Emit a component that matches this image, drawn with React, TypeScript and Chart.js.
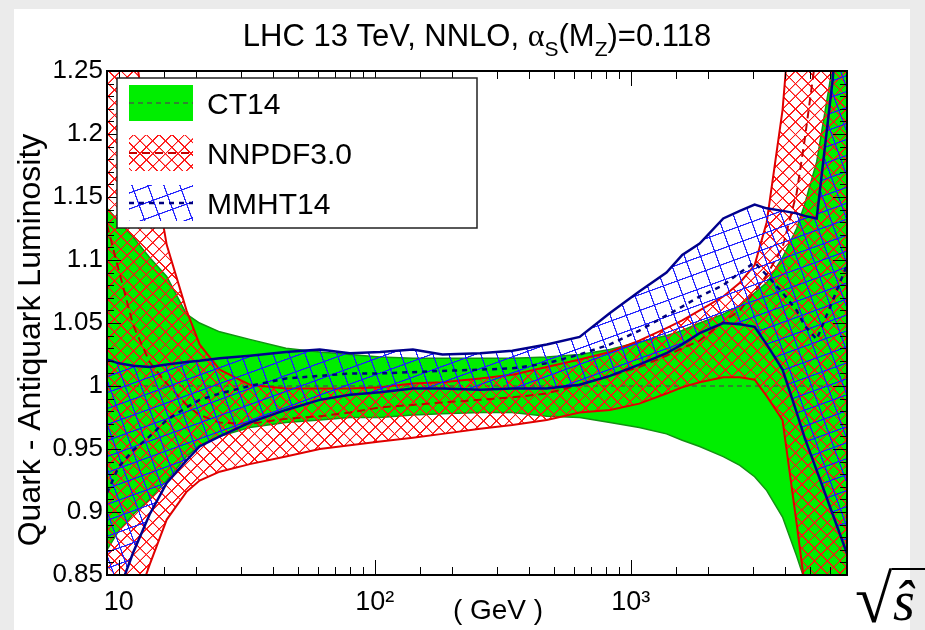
import React, { useEffect, useRef } from 'react';
import { Chart, registerables } from 'chart.js';

Chart.register(...registerables);

// sqrt(s-hat) in GeV
const sqrtS = [9, 10, 11.4, 13.2, 15.4, 18.4, 20.7, 24.8, 32.5, 45, 61, 80, 105, 141, 184, 258, 345, 470, 632, 830, 1080, 1380, 1590, 1860, 2300, 2670, 3050, 3400, 3920, 4450, 4780, 5330, 6160, 7000];

const ct14Upper = [1.141, 1.131, 1.118, 1.102, 1.087, 1.057, 1.050, 1.043, 1.037, 1.030, 1.027, 1.025, 1.023, 1.022, 1.022, 1.022, 1.022, 1.023, 1.025, 1.029, 1.035, 1.040, 1.044, 1.050, 1.057, 1.064, 1.074, 1.082, 1.102, 1.125, 1.144, 1.178, 1.255, 1.35];
const ct14Central = [1, 1, 1, 1, 1, 1, 1, 1, 1, 1, 1, 1, 1, 1, 1, 1, 1, 1, 1, 1, 1, 1, 1, 1, 1, 1, 1, 1, 1, 1, 1, 1, 1, 1];
const ct14Lower = [0.870, 0.885, 0.898, 0.910, 0.925, 0.944, 0.953, 0.960, 0.967, 0.971, 0.973, 0.975, 0.975, 0.977, 0.978, 0.979, 0.979, 0.976, 0.975, 0.971, 0.967, 0.962, 0.957, 0.952, 0.944, 0.937, 0.928, 0.917, 0.896, 0.865, 0.846, 0.814, 0.767, 0.735];

const nnpdfUpper = [1.41, 1.346, 1.275, 1.191, 1.112, 1.060, 1.033, 1.013, 1.001, 0.998, 0.998, 0.998, 0.999, 1.002, 1.003, 1.006, 1.009, 1.015, 1.021, 1.027, 1.036, 1.046, 1.052, 1.060, 1.071, 1.082, 1.096, 1.130, 1.219, 1.354, 1.45, 1.6, 1.8, 2.0];
const nnpdfCentral = [1.128, 1.092, 1.048, 1.019, 1.002, 0.985, 0.977, 0.971, 0.970, 0.974, 0.976, 0.979, 0.983, 0.985, 0.987, 0.989, 0.991, 0.994, 1.001, 1.008, 1.015, 1.024, 1.030, 1.036, 1.051, 1.060, 1.075, 1.088, 1.110, 1.153, 1.195, 1.267, 1.40, 1.5];
const nnpdfLower = [0.763, 0.790, 0.821, 0.858, 0.894, 0.916, 0.925, 0.932, 0.938, 0.944, 0.950, 0.953, 0.956, 0.959, 0.962, 0.966, 0.969, 0.973, 0.979, 0.981, 0.986, 0.994, 0.999, 1.003, 1.007, 1.007, 1.005, 0.992, 0.973, 0.891, 0.842, 0.767, 0.687, 0.608];

const mmhtUpper = [1.021, 1.018, 1.016, 1.015, 1.017, 1.019, 1.020, 1.022, 1.024, 1.027, 1.029, 1.026, 1.027, 1.029, 1.025, 1.026, 1.028, 1.033, 1.039, 1.058, 1.075, 1.090, 1.104, 1.113, 1.133, 1.139, 1.144, 1.141, 1.139, 1.137, 1.135, 1.133, 1.244, 1.40];
const mmhtCentral = [0.915, 0.936, 0.949, 0.960, 0.973, 0.983, 0.989, 0.994, 1.000, 1.006, 1.008, 1.010, 1.010, 1.011, 1.012, 1.013, 1.014, 1.018, 1.025, 1.033, 1.044, 1.056, 1.063, 1.071, 1.080, 1.090, 1.098, 1.088, 1.074, 1.060, 1.048, 1.037, 1.068, 1.096];
const mmhtLower = [0.811, 0.837, 0.868, 0.898, 0.923, 0.941, 0.952, 0.960, 0.971, 0.981, 0.989, 0.993, 0.995, 0.998, 0.998, 0.997, 0.998, 0.998, 1.001, 1.008, 1.017, 1.026, 1.033, 1.042, 1.050, 1.049, 1.047, 1.033, 1.013, 0.979, 0.959, 0.933, 0.898, 0.867];

const yTicks = [0.85, 0.9, 0.95, 1, 1.05, 1.1, 1.15, 1.2, 1.25];
const yTickLabels = ['0.85', '0.9', '0.95', '1', '1.05', '1.1', '1.15', '1.2', '1.25'];
const xMajorTicks = [10, 100, 1000];
const xTickLabels = ['10', '10\u00B2', '10\u00B3'];
const legendLabels = ['CT14', 'NNPDF3.0', 'MMHT14'];

const SANS = "'Liberation Sans', Arial, Helvetica, sans-serif";
const SERIF = "'Liberation Serif', 'DejaVu Serif', 'Times New Roman', serif";

const GREEN = 'rgb(0,238,0)';
const GREEN_EDGE = '#129312';
const CT_CENTRAL = 'rgba(75,75,75,0.85)';
const RED_EDGE = '#e00000';
const RED_CENTRAL = '#c40000';
const BLUE_EDGE = '#00008c';
const BLUE_CENTRAL = '#000080';

function makeGridPattern(ctx: CanvasRenderingContext2D, size: number, color: string, angle: number, lw: number) {
  const S = size * 4;
  const tile = document.createElement('canvas');
  tile.width = S;
  tile.height = S;
  const t = tile.getContext('2d')!;
  t.fillStyle = color;
  t.fillRect(0, 0, S, lw * 4);
  t.fillRect(0, 0, lw * 4, S);
  const p = ctx.createPattern(tile, 'repeat')!;
  p.setTransform(new DOMMatrix().rotate(angle).scale(0.25));
  return p;
}

function drawRich(ctx: CanvasRenderingContext2D, segs: { t: string; f: string; dy: number }[], cx: number, y: number) {
  let total = 0;
  segs.forEach((s) => {
    ctx.font = s.f;
    total += ctx.measureText(s.t).width;
  });
  let x = cx - total / 2;
  segs.forEach((s) => {
    ctx.font = s.f;
    ctx.fillText(s.t, x, y + s.dy);
    x += ctx.measureText(s.t).width;
  });
}

export default function App() {
  const ref = useRef<HTMLCanvasElement>(null);

  useEffect(() => {
    const canvas = ref.current!;
    const ctx0 = canvas.getContext('2d')!;
    const redHatch = makeGridPattern(ctx0, 9, 'rgb(255,20,20)', 45, 1.2);
    const blueHatch = makeGridPattern(ctx0, 15, 'rgb(30,30,255)', -20, 1.2);
    const pts = (arr: number[]) => sqrtS.map((x, i) => ({ x, y: arr[i] }));
    const isMajor = (v: number) => xMajorTicks.findIndex((m) => Math.abs(v - m) < m * 1e-6);

    const decor = {
      id: 'decor',
      afterDatasetsDraw(chart: any) {
        const { ctx, chartArea: a, scales } = chart;
        const xs = scales.x;
        const ys = scales.y;
        ctx.save();
        ctx.strokeStyle = '#000';
        ctx.lineWidth = 1;
        ctx.setLineDash([]);
        ctx.beginPath();
        xs.ticks.forEach((t: any) => {
          const px = Math.round(xs.getPixelForValue(t.value)) + 0.5;
          if (px <= a.left + 1.5 || px >= a.right - 1.5) return;
          const len = isMajor(t.value) >= 0 ? 15 : 8;
          ctx.moveTo(px, a.bottom);
          ctx.lineTo(px, a.bottom - len);
          ctx.moveTo(px, a.top);
          ctx.lineTo(px, a.top + len);
        });
        const nMinor = Math.round((ys.max - ys.min) / 0.01);
        for (let i = 1; i < nMinor; i++) {
          const v = ys.min + (i * (ys.max - ys.min)) / nMinor;
          const py = Math.round(ys.getPixelForValue(v)) + 0.5;
          const len = i % 5 === 0 ? 14 : 7;
          ctx.moveTo(a.left, py);
          ctx.lineTo(a.left + len, py);
          ctx.moveTo(a.right, py);
          ctx.lineTo(a.right - len, py);
        }
        ctx.stroke();
        ctx.lineWidth = 2;
        ctx.strokeRect(a.left, a.top, a.width, a.height);

        // legend
        const lx = a.left + 10;
        const ly = a.top + 7;
        ctx.fillStyle = '#fff';
        ctx.fillRect(lx, ly, 360, 150);
        ctx.lineWidth = 1.5;
        ctx.strokeStyle = '#222';
        ctx.strokeRect(lx, ly, 360, 150);
        const sx = lx + 12;
        const sw = 64;
        const rows = [
          { y: ly + 7, fill: GREEN as any, line: CT_CENTRAL, dash: [5, 4], lw: 1.5 },
          { y: ly + 57, fill: redHatch as any, line: RED_CENTRAL, dash: [8, 5], lw: 2 },
          { y: ly + 107, fill: blueHatch as any, line: BLUE_CENTRAL, dash: [5, 5], lw: 2.5 },
        ];
        rows.forEach((r, i) => {
          ctx.fillStyle = r.fill;
          ctx.fillRect(sx, r.y, sw, 36);
          ctx.strokeStyle = r.line;
          ctx.lineWidth = r.lw;
          ctx.setLineDash(r.dash);
          ctx.beginPath();
          ctx.moveTo(sx, r.y + 18);
          ctx.lineTo(sx + sw, r.y + 18);
          ctx.stroke();
          ctx.setLineDash([]);
          ctx.fillStyle = '#000';
          ctx.font = `30px ${SANS}`;
          ctx.textAlign = 'left';
          ctx.textBaseline = 'alphabetic';
          ctx.fillText(legendLabels[i], sx + sw + 14, r.y + 29);
        });
        ctx.restore();
      },
      afterDraw(chart: any) {
        const { ctx, chartArea: a } = chart;
        ctx.save();
        ctx.fillStyle = '#000';
        ctx.textAlign = 'left';
        ctx.textBaseline = 'alphabetic';
        const F = `31px ${SANS}`;
        const FS = `21px ${SANS}`;
        drawRich(
          ctx,
          [
            { t: 'LHC 13 TeV, NNLO, ', f: F, dy: 0 },
            { t: '\u03B1', f: `32px ${SERIF}`, dy: 0 },
            { t: 'S', f: FS, dy: 10 },
            { t: '(M', f: F, dy: 0 },
            { t: 'Z', f: FS, dy: 10 },
            { t: ')=0.118', f: F, dy: 0 },
          ],
          (a.left + a.right) / 2,
          46
        );
        ctx.save();
        ctx.translate(31, 340);
        ctx.rotate(-Math.PI / 2);
        ctx.textAlign = 'center';
        ctx.textBaseline = 'middle';
        ctx.font = `32px ${SANS}`;
        ctx.fillText('Quark - Antiquark Luminosity', 0, 0);
        ctx.restore();
        ctx.textAlign = 'center';
        ctx.font = `28px ${SANS}`;
        ctx.fillText('( GeV )', 498, 619);
        // sqrt(s-hat)
        ctx.textAlign = 'left';
        ctx.font = `68px ${SERIF}`;
        const rx = 855;
        const rb = 622;
        const m = ctx.measureText('\u221A');
        ctx.fillText('\u221A', rx, rb);
        const topY = rb - m.actualBoundingBoxAscent;
        const rightX = rx + m.actualBoundingBoxRight;
        ctx.strokeStyle = '#000';
        ctx.lineWidth = 2;
        ctx.beginPath();
        ctx.moveTo(rightX - 1, topY + 1);
        ctx.lineTo(925, topY + 1);
        ctx.stroke();
        ctx.font = `italic 56px ${SERIF}`;
        ctx.fillText('\u015D', rightX, rb - 2);
        ctx.restore();
      },
    };

    const chart = new Chart(canvas, {
      type: 'line',
      data: {
        datasets: [
          { label: 'CT14 up', data: pts(ct14Upper), borderColor: GREEN_EDGE, borderWidth: 1.5, backgroundColor: GREEN, fill: '+1', order: 9 },
          { label: 'CT14 low', data: pts(ct14Lower), borderColor: GREEN_EDGE, borderWidth: 1.5, fill: false, order: 8 },
          { label: 'CT14', data: pts(ct14Central), borderColor: CT_CENTRAL, borderWidth: 1.5, borderDash: [5, 4], fill: false, order: 7 },
          { label: 'NNPDF up', data: pts(nnpdfUpper), borderColor: RED_EDGE, borderWidth: 2, backgroundColor: redHatch as any, fill: '+1', order: 6 },
          { label: 'NNPDF low', data: pts(nnpdfLower), borderColor: RED_EDGE, borderWidth: 2, fill: false, order: 5 },
          { label: 'NNPDF3.0', data: pts(nnpdfCentral), borderColor: RED_CENTRAL, borderWidth: 2, borderDash: [8, 5], fill: false, order: 4 },
          { label: 'MMHT up', data: pts(mmhtUpper), borderColor: BLUE_EDGE, borderWidth: 2.5, backgroundColor: blueHatch as any, fill: '+1', order: 3 },
          { label: 'MMHT low', data: pts(mmhtLower), borderColor: BLUE_EDGE, borderWidth: 2.5, fill: false, order: 2 },
          { label: 'MMHT14', data: pts(mmhtCentral), borderColor: BLUE_CENTRAL, borderWidth: 2.5, borderDash: [5, 5], fill: false, order: 1 },
        ],
      },
      options: {
        animation: false,
        responsive: false,
        devicePixelRatio: 1,
        layout: { padding: { left: 0, right: 78, top: 71, bottom: 0 } },
        elements: { point: { radius: 0, hoverRadius: 0 }, line: { tension: 0 } },
        plugins: { legend: { display: false }, tooltip: { enabled: false }, title: { display: false } },
        events: [],
        scales: {
          x: {
            type: 'logarithmic',
            min: 9,
            max: 7000,
            grid: { display: false, drawTicks: false },
            border: { display: false },
            ticks: {
              autoSkip: false,
              maxRotation: 0,
              minRotation: 0,
              padding: 11,
              color: '#000',
              font: { family: SANS, size: 27 },
              callback: (v: any) => {
                const i = isMajor(Number(v));
                return i >= 0 ? xTickLabels[i] : '';
              },
            },
            afterFit: (s: any) => {
              s.height = 55;
            },
          },
          y: {
            type: 'linear',
            min: 0.85,
            max: 1.25,
            grid: { display: false, drawTicks: false },
            border: { display: false },
            afterBuildTicks: (s: any) => {
              s.ticks = yTicks.map((v) => ({ value: v }));
            },
            ticks: {
              padding: 4,
              color: '#000',
              font: { family: SANS, size: 26 },
              callback: (v: any) => {
                const i = yTicks.findIndex((t) => Math.abs(t - Number(v)) < 1e-6);
                return i >= 0 ? yTickLabels[i] : '';
              },
            },
            afterFit: (s: any) => {
              s.width = 107;
            },
          },
        },
      },
      plugins: [decor],
    } as any);
    return () => chart.destroy();
  }, []);

  return (
    <div style={{ position: 'fixed', left: 0, top: 0, width: 925, height: 630, background: '#ebebeb', overflow: 'hidden' }}>
      <div style={{ position: 'absolute', left: 14, top: 9, width: 896, height: 621, background: '#fff' }} />
      <canvas ref={ref} width={925} height={630} style={{ position: 'absolute', left: 0, top: 0, width: 925, height: 630 }} />
    </div>
  );
}
